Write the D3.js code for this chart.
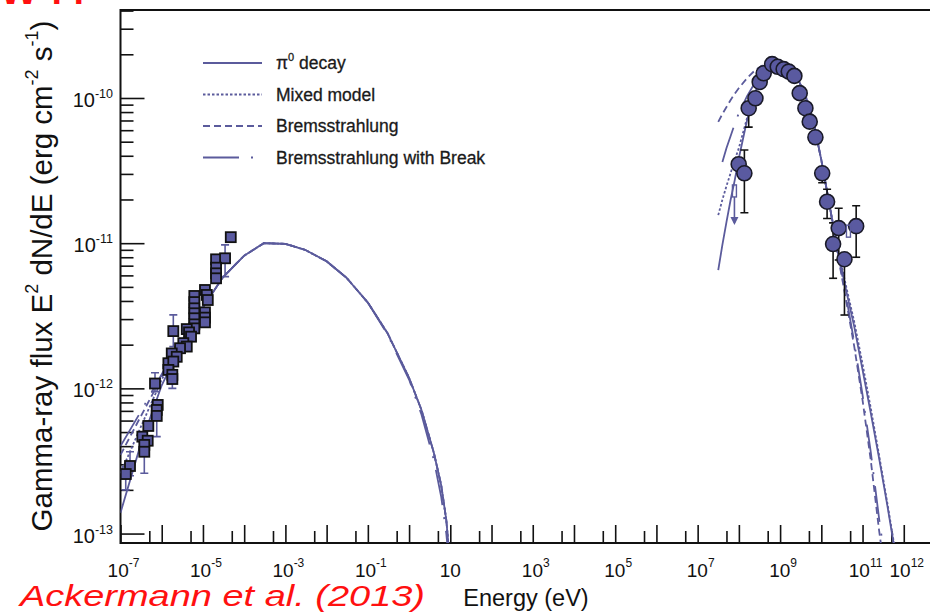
<!DOCTYPE html>
<html>
<head>
<meta charset="utf-8">
<script src="https://cdn.jsdelivr.net/npm/d3@7/dist/d3.min.js"></script>
<style>
body { margin: 0; background: #fff; }
text { font-family: "Liberation Sans", Arial, Helvetica, sans-serif; }
</style>
</head>
<body>
<script>
// ---- data ----
// Fermi-LAT points (circles)
var latE  = [9.9e7, 1.36e8, 1.73e8, 2.52e8, 3.2e8, 4.0e8, 6.4e8, 8.75e8, 1.22e9, 1.62e9, 2.22e9, 2.99e9, 4.11e9, 5.23e9, 7.19e9, 1.05e10, 1.38e10, 1.93e10, 2.64e10, 3.64e10, 7.0e10];
var latF  = [3.5e-11, 3.03e-11, 8.5e-11, 9.95e-11, 1.29e-10, 1.48e-10, 1.71e-10, 1.64e-10, 1.58e-10, 1.52e-10, 1.42e-10, 1.08e-10, 8.5e-11, 6.87e-11, 5.36e-11, 3.03e-11, 1.93e-11, 9.86e-12, 1.27e-11, 7.75e-12, 1.31e-11];
var latLo = [null, 1.62e-11, 6.3e-11, null, null, null, null, null, null, null, null, null, null, null, null, 2.61e-11, 1.48e-11, 5.73e-12, 7.66e-12, 3.2e-12, 8.0e-12];
var latHi = [null, 4.38e-11, null, 1.09e-10, null, null, null, null, null, null, null, null, null, null, null, null, 2.35e-11, 1.38e-11, 1.74e-11, null, 1.81e-11];
// upper limits
var ulE = [7.8e7, 4.55e10];
var ulF = [2.29e-11, 1.21e-11];
var ulArrow = [true, false];

// radio points (squares)
var radE  = [4.73e-5, 2.08e-5, 3.44e-5, 2.08e-5, 2.08e-5, 2.08e-5, 1.12e-5, 1.24e-5, 1.31e-5, 6.18e-6, 6.18e-6, 6.18e-6, 6.18e-6, 6.18e-6, 6.18e-6, 6.18e-6, 1.12e-5, 1.12e-5, 1.12e-5, 1.91e-6, 4.05e-6, 4.6e-6, 5.14e-6, 3.34e-6, 4.05e-6, 2.78e-6, 1.75e-6, 2.31e-6, 1.45e-6, 1.91e-6, 1.45e-6, 1.81e-6, 1.81e-6, 6.87e-7, 8.0e-7, 7.57e-7, 7.57e-7, 4.73e-7, 3.38e-7, 4.57e-7, 3.78e-7, 3.78e-7, 1.70e-7, 1.34e-7];
var radF  = [1.10e-11, 7.74e-12, 7.87e-12, 6.78e-12, 6.2e-12, 5.73e-12, 4.76e-12, 4.40e-12, 4.06e-12, 4.33e-12, 3.93e-12, 3.56e-12, 3.29e-12, 3.04e-12, 2.76e-12, 2.59e-12, 3.34e-12, 3.07e-12, 2.85e-12, 2.48e-12, 2.56e-12, 2.43e-12, 2.27e-12, 2.05e-12, 1.94e-12, 1.89e-12, 1.74e-12, 1.65e-12, 1.49e-12, 1.53e-12, 1.34e-12, 1.24e-12, 1.16e-12, 1.08e-12, 7.69e-13, 7.1e-13, 6.46e-13, 5.51e-13, 4.65e-13, 4.36e-13, 4.08e-13, 3.66e-13, 2.92e-13, 2.57e-13];
var radLo = [null, null, 5.88e-12, null, null, null, null, null, null, null, null, null, null, null, null, null, null, null, null, 1.94e-12, null, null, null, null, null, null, null, null, null, null, null, null, 1.0e-12, 9.5e-13, null, null, 4.65e-13, null, null, null, null, 2.6e-13, 2.5e-13, 2.0e-13];
var radHi = [null, null, 9.73e-12, null, null, null, null, null, null, null, null, null, null, null, null, null, null, null, null, 3.21e-12, null, null, null, null, null, null, null, null, null, null, null, null, null, 1.28e-12, null, null, null, null, null, null, null, null, 3.66e-13, 2.9e-13];

// model curves, low-energy (synchrotron) part
var lowE = [1e-7, 3e-7, 1e-6, 3e-6, 1e-5, 3e-5, 1e-4, 3e-4, 1e-3, 3e-3, 1e-2, 3e-2, 0.1, 0.3, 1, 2, 4, 6, 8, 9.5];
var pi0Low   = [1.39e-13, 4.0e-13, 1.05e-12, 2.0e-12, 3.6e-12, 5.8e-12, 8.2e-12, 1.0e-11, 9.9e-12, 9.0e-12, 7.5e-12, 5.8e-12, 3.9e-12, 2.4e-12, 1.18e-12, 7.1e-13, 3.59e-13, 2.16e-13, 1.24e-13, 7e-14];
var mixedLow = [2.6e-13, 5.3e-13, 1.15e-12, 2.0e-12, 3.6e-12, 5.8e-12, 8.2e-12, 1.0e-11, 9.9e-12, 9.0e-12, 7.5e-12, 5.8e-12, 3.9e-12, 2.4e-12, 1.18e-12, 7.1e-13, 3.59e-13, 2.16e-13, 1.24e-13, 7e-14];
var bremLow  = [3.48e-13, 6.3e-13, 1.2e-12, 2.05e-12, 3.6e-12, 5.8e-12, 8.2e-12, 1.0e-11, 9.9e-12, 9.0e-12, 7.5e-12, 5.8e-12, 3.9e-12, 2.4e-12, 1.18e-12, 7.1e-13, 3.59e-13, 2.16e-13, 1.24e-13, 7e-14];
var breakLow = [4.0e-13, 6.8e-13, 1.25e-12, 2.1e-12, 3.6e-12, 5.8e-12, 8.2e-12, 1.0e-11, 9.9e-12, 9.0e-12, 7.5e-12, 5.8e-12, 3.9e-12, 2.35e-12, 1.15e-12, 6.6e-13, 3.2e-13, 1.8e-13, 1.0e-13, 6e-14];

// model curves, gamma-ray part
var highE = [3.16e7, 3.98e7, 5.01e7, 6.31e7, 7.94e7, 1e8, 1.58e8, 2.51e8, 3.98e8, 6.31e8, 1e9, 1.58e9, 2.51e9, 3.98e9, 6.31e9, 1e10, 1.58e10, 2.51e10, 3.98e10, 6.31e10, 1e11, 1.58e11, 2.51e11, 3.98e11, 6.31e11];
var pi0High   = [6.53e-12, 9.73e-12, 1.40e-11, 1.99e-11, 2.72e-11, 3.86e-11, 7.04e-11, 1.10e-10, 1.46e-10, 1.69e-10, 1.71e-10, 1.61e-10, 1.40e-10, 1.08e-10, 7.05e-11, 3.74e-11, 1.83e-11, 8.97e-12, 4.76e-12, 2.65e-12, 1.34e-12, 6.78e-13, 3.32e-13, 1.57e-13, 7.13e-14];
var mixedHigh = [1.56e-11, 1.99e-11, 2.48e-11, 3.04e-11, 3.74e-11, 4.53e-11, 7.28e-11, 1.10e-10, 1.46e-10, 1.69e-10, 1.71e-10, 1.61e-10, 1.40e-10, 1.08e-10, 7.05e-11, 3.74e-11, 1.83e-11, 9.2e-12, 5.07e-12, 2.86e-12, 1.47e-12, 7.33e-13, 3.48e-13, 1.63e-13, 7.4e-14];
var bremHigh  = [6.84e-11, 7.76e-11, 8.67e-11, 9.69e-11, 1.07e-10, 1.17e-10, 1.37e-10, 1.56e-10, 1.69e-10, 1.74e-10, 1.71e-10, 1.61e-10, 1.37e-10, 1.05e-10, 6.84e-11, 3.74e-11, 1.83e-11, 8.3e-12, 4.06e-12, 1.93e-12, 8.3e-13, 3.21e-13, 1.06e-13, 4e-14, 1e-14];
var breakHigh = [null, 3.62e-11, 4.53e-11, 5.47e-11, 6.62e-11, 7.88e-11, 1.03e-10, 1.29e-10, 1.51e-10, 1.69e-10, 1.71e-10, 1.61e-10, 1.40e-10, 1.08e-10, 7.05e-11, 3.74e-11, 1.83e-11, 8.7e-12, 4.33e-12, 2.06e-12, 9.0e-13, 3.65e-13, 1.28e-13, 5e-14, 1e-14];

var modelNames = ["decay", "Mixed model", "Bremsstrahlung", "Bremsstrahlung with Break"];
var modelDash  = ["none", "2.5,2", "7,4", "36,12,2,12"];
var xLabelExp = [-7, -5, -3, -1, 1, 3, 5, 7, 9, 11, 12];
var yLabelExp = [-13, -12, -11, -10];

// ---- layout ----
const margin = { left: 120.5, top: 10, bottom: 70 };
var W = 930, H = 613;
var plotRight = 945;
var plotBottom = H - margin.bottom;  // 543
var lineColor = "#5b5b9c";
var markColor = "#5a5aa0";

var svg = d3.select("body").append("svg")
    .attr("width", W)
    .attr("height", H);

var x = d3.scaleLog()
    .domain([1e-7, 1e13])
    .range([margin.left, plotRight]);

var y = d3.scaleLog()
    .domain([Math.pow(10, -13.065), Math.pow(10, -9.394)])
    .range([plotBottom, margin.top]);

svg.append("clipPath").attr("id", "plotclip")
  .append("rect")
    .attr("x", margin.left).attr("y", margin.top)
    .attr("width", plotRight - margin.left)
    .attr("height", plotBottom - margin.top);

// ---- axes ----
var xMajor = d3.range(-7, 14).map(k => Math.pow(10, k));
var xMinor = d3.range(-7, 13).map(k => 5 * Math.pow(10, k));
var yMajor = yLabelExp.map(k => Math.pow(10, k));
var yMinor = [];
[-13, -12, -11, -10].forEach(k => {
    for (var m = 2; m <= 9; m++) {
        var v = m * Math.pow(10, k);
        if (v < y.domain()[1]) yMinor.push(v);
    }
});

function tickAxis(axis, tr) {
    var g = svg.append("g").attr("transform", tr).call(axis);
    g.select(".domain").remove();
    g.selectAll(".tick line").attr("stroke", "#111").attr("stroke-width", 1.6);
    g.selectAll(".tick text").remove();
}
tickAxis(d3.axisBottom(x).tickValues(xMajor).tickSize(-18), "translate(0," + plotBottom + ")");
tickAxis(d3.axisBottom(x).tickValues(xMinor).tickSize(-12), "translate(0," + plotBottom + ")");
tickAxis(d3.axisLeft(y).tickValues(yMajor).tickSize(-24), "translate(" + margin.left + ",0)");
tickAxis(d3.axisLeft(y).tickValues(yMinor).tickSize(-13), "translate(" + margin.left + ",0)");

// frame
svg.append("rect")
    .attr("x", margin.left).attr("y", margin.top)
    .attr("width", plotRight - margin.left)
    .attr("height", plotBottom - margin.top)
    .attr("fill", "none").attr("stroke", "#111").attr("stroke-width", 2);

// tick labels
var xl = svg.append("g").selectAll("text").data(xLabelExp).enter().append("text")
    .attr("x", d => x(Math.pow(10, d)) + (d == 1 ? 0 : 3))
    .attr("y", 577)
    .attr("text-anchor", "middle")
    .attr("font-size", 19)
    .attr("fill", "#111");
xl.append("tspan").text("10");
xl.filter(d => d != 1).append("tspan")
    .attr("font-size", 12).attr("dy", -10)
    .text(d => d < 0 ? "-" + (-d) : d);

var yl = svg.append("g").selectAll("text").data(yLabelExp).enter().append("text")
    .attr("x", 113)
    .attr("y", d => y(Math.pow(10, d)) + 9)
    .attr("text-anchor", "end")
    .attr("font-size", 20)
    .attr("fill", "#111");
yl.append("tspan").text("10");
yl.append("tspan").attr("font-size", 12.5).attr("dy", -9).text(d => "-" + (-d));

// axis titles
svg.append("text")
    .attr("x", 526).attr("y", 606)
    .attr("text-anchor", "middle")
    .attr("font-size", 23.5)
    .attr("fill", "#111")
    .text("Energy (eV)");

var yt = svg.append("text")
    .attr("transform", "translate(52,276) rotate(-90)")
    .attr("text-anchor", "middle")
    .attr("font-size", 29.5)
    .attr("fill", "#111");
yt.append("tspan").text("Gamma-ray flux E");
yt.append("tspan").attr("font-size", 18).attr("dy", -14).text("2");
yt.append("tspan").attr("dy", 14).text(" dN/dE (erg cm");
yt.append("tspan").attr("font-size", 18).attr("dy", -14).text("-2");
yt.append("tspan").attr("dy", 14).text(" s");
yt.append("tspan").attr("font-size", 18).attr("dy", -14).text("-1");
yt.append("tspan").attr("dy", 14).text(")");

// ---- model curves ----
var plot = svg.append("g").attr("clip-path", "url(#plotclip)");
var line = d3.line()
    .defined(d => d[1] != null)
    .x(d => x(d[0]))
    .y(d => y(d[1]));

var lowSets = [pi0Low, mixedLow, bremLow, breakLow];
var highSets = [pi0High, mixedHigh, bremHigh, breakHigh];
lowSets.forEach((s, i) => {
    plot.append("path")
        .attr("d", line(lowE.map((e, j) => [e, s[j]])))
        .attr("fill", "none").attr("stroke", lineColor)
        .attr("stroke-width", 1.8)
        .attr("stroke-dasharray", modelDash[i]);
});
highSets.forEach((s, i) => {
    plot.append("path")
        .attr("d", line(highE.map((e, j) => [e, s[j]])))
        .attr("fill", "none").attr("stroke", lineColor)
        .attr("stroke-width", 1.8)
        .attr("stroke-dasharray", modelDash[i]);
});

// ---- radio squares ----
radE.forEach((e, i) => {
    if (radLo[i] != null || radHi[i] != null) {
        var lo = radLo[i] != null ? radLo[i] : radF[i];
        var hi = radHi[i] != null ? radHi[i] : radF[i];
        plot.append("line")
            .attr("x1", x(e)).attr("x2", x(e))
            .attr("y1", y(lo)).attr("y2", y(hi))
            .attr("stroke", lineColor).attr("stroke-width", 1.6);
        [lo, hi].forEach(v => {
            if (v == radF[i]) return;
            plot.append("line")
                .attr("x1", x(e) - 4).attr("x2", x(e) + 4)
                .attr("y1", y(v)).attr("y2", y(v))
                .attr("stroke", lineColor).attr("stroke-width", 1.6);
        });
    }
});
plot.selectAll(".sq").data(radE).enter().append("rect")
    .attr("class", "sq")
    .attr("x", d => x(d) - 5)
    .attr("y", (d, i) => y(radF[i]) - 5)
    .attr("width", 10).attr("height", 10)
    .attr("fill", markColor)
    .attr("stroke", "#111").attr("stroke-width", 1.8);

// ---- LAT circles ----
latE.forEach((e, i) => {
    if (latLo[i] != null || latHi[i] != null) {
        var lo = latLo[i] != null ? latLo[i] : latF[i];
        var hi = latHi[i] != null ? latHi[i] : latF[i];
        plot.append("line")
            .attr("x1", x(e)).attr("x2", x(e))
            .attr("y1", y(lo)).attr("y2", y(hi))
            .attr("stroke", "#111").attr("stroke-width", 1.6);
        [lo, hi].forEach(v => {
            if (v == latF[i]) return;
            plot.append("line")
                .attr("x1", x(e) - 4).attr("x2", x(e) + 4)
                .attr("y1", y(v)).attr("y2", y(v))
                .attr("stroke", "#111").attr("stroke-width", 1.6);
        });
    }
});
plot.selectAll(".ci").data(latE).enter().append("circle")
    .attr("class", "ci")
    .attr("cx", d => x(d))
    .attr("cy", (d, i) => y(latF[i]))
    .attr("r", 7.5)
    .attr("fill", markColor)
    .attr("stroke", "#1a1a28").attr("stroke-width", 1.6);

// upper limits
ulE.forEach((e, i) => {
    plot.append("rect")
        .attr("x", x(e) - 2).attr("y", y(ulF[i]) - 6)
        .attr("width", 4).attr("height", 12)
        .attr("fill", "none").attr("stroke", lineColor).attr("stroke-width", 1.4);
    if (ulArrow[i]) {
        plot.append("line")
            .attr("x1", x(e)).attr("x2", x(e))
            .attr("y1", y(ulF[i]) + 6).attr("y2", y(ulF[i]) + 32)
            .attr("stroke", lineColor).attr("stroke-width", 1.6);
        plot.append("path")
            .attr("d", "M" + (x(e) - 4) + "," + (y(ulF[i]) + 26) + "L" + (x(e) + 4) + "," + (y(ulF[i]) + 26) + "L" + x(e) + "," + (y(ulF[i]) + 34) + "Z")
            .attr("fill", lineColor);
    }
});

// ---- legend ----
var leg = svg.append("g");
modelNames.forEach((n, i) => {
    var ly = 63 + i * 31.5;
    leg.append("line")
        .attr("x1", 203).attr("x2", 262)
        .attr("y1", ly).attr("y2", ly)
        .attr("stroke", lineColor).attr("stroke-width", 1.8)
        .attr("stroke-dasharray", modelDash[i]);
    var t = leg.append("text")
        .attr("x", 276).attr("y", ly + 6)
        .attr("font-size", 17.5)
        .attr("fill", "#1a1a1a")
        .attr("stroke", "#1a1a1a").attr("stroke-width", 0.3);
    if (i == 0) {
        t.append("tspan").text("\u03c0");
        t.append("tspan").attr("font-size", 11).attr("dy", -8).text("0");
        t.append("tspan").attr("dy", 8).text(" " + n);
    } else {
        t.text(n);
    }
});

// red annotations
var w = svg.append("text")
    .attr("y", 4)
    .attr("font-size", 40).attr("font-weight", "bold")
    .attr("fill", "#ff1010");
w.append("tspan").attr("x", 0).text("W");
w.append("tspan").attr("x", 41).text("4");
w.append("tspan").attr("x", 63).text("4");

svg.append("text")
    .attr("x", 20).attr("y", 606)
    .attr("font-family", "'DejaVu Sans', sans-serif")
    .attr("font-style", "italic")
    .attr("font-size", 29)
    .attr("textLength", 405)
    .attr("lengthAdjust", "spacingAndGlyphs")
    .attr("fill", "#ff1010")
    .text("Ackermann et al. (2013)");
</script>
</body>
</html>
